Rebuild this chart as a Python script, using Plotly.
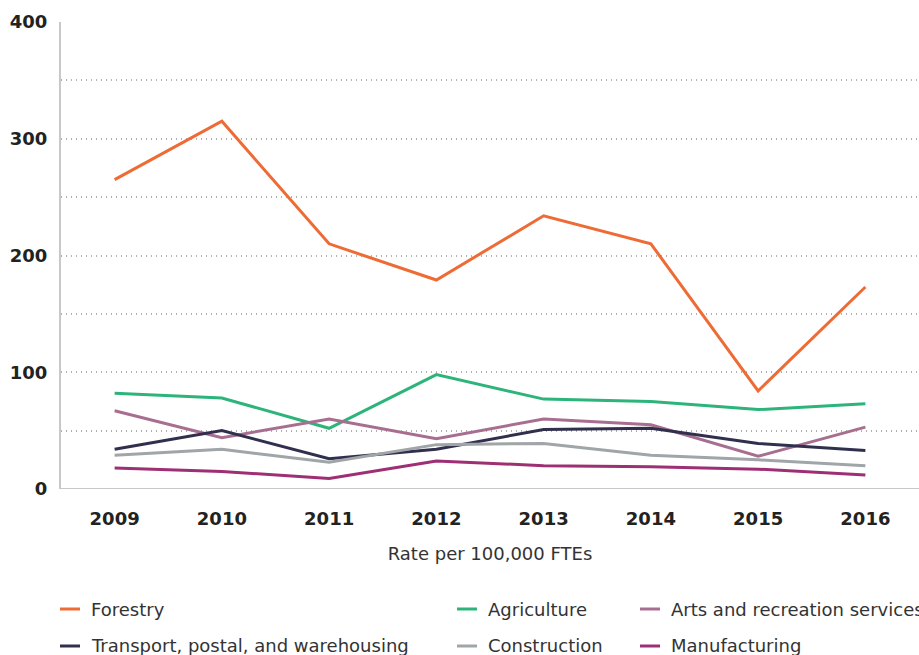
import plotly.graph_objects as go

# Fatality rates per 100,000 full-time equivalent workers, by industry
years = ["2009", "2010", "2011", "2012", "2013", "2014", "2015", "2016"]

forestry = [265, 315, 210, 179, 234, 210, 84, 173]
agriculture = [82, 78, 52, 98, 77, 75, 68, 73]
arts_recreation = [67, 44, 60, 43, 60, 55, 28, 53]
transport = [34, 50, 26, 34, 51, 52, 39, 33]
construction = [29, 34, 23, 38, 39, 29, 25, 20]
manufacturing = [18, 15, 9, 24, 20, 19, 17, 12]

series_names = [
    "Forestry", "Agriculture", "Arts and recreation services",
    "Transport, postal, and warehousing", "Construction", "Manufacturing",
]
series_values = [forestry, agriculture, arts_recreation, transport, construction, manufacturing]
series_colors = ["#EE6B35", "#2DB47A", "#A86E90", "#30304E", "#A0A5A8", "#9E2F74"]

y_ticks = [0, 100, 200, 300, 400]
x_title = "Rate per 100,000 FTEs"

FONT = "DejaVu Sans"
W, H = 919, 655
ML, MR, MT, MB = 61, 0, 22, 166

fig = go.Figure()
for name, vals, col in zip(series_names, series_values, series_colors):
    fig.add_trace(go.Scatter(
        x=years, y=vals, name=name, mode="lines",
        line=dict(color=col, width=3), showlegend=False,
    ))

# Hand-placed legend: three columns, two rows
legend_cols_px = [60, 457, 640]
legend_rows_px = [609, 646]
plot_w = W - ML - MR
plot_h = H - MT - MB
shapes = []
annotations = []
for i, (name, col) in enumerate(zip(series_names, series_colors)):
    r, c = divmod(i, 3)
    x0 = (legend_cols_px[c] - ML) / plot_w
    x1 = (legend_cols_px[c] + 20 - ML) / plot_w
    xt = (legend_cols_px[c] + 29 - ML) / plot_w
    yy = (H - MB - legend_rows_px[r]) / plot_h
    shapes.append(dict(type="line", xref="paper", yref="paper",
                       x0=x0, x1=x1, y0=yy, y1=yy,
                       line=dict(color=col, width=3)))
    annotations.append(dict(xref="paper", yref="paper", x=xt, y=yy,
                            text=name, showarrow=False,
                            xanchor="left", yanchor="middle",
                            font=dict(family=FONT, size=18, color="#333333")))

fig.update_layout(
    width=W, height=H,
    margin=dict(l=ML, r=MR, t=MT, b=MB),
    paper_bgcolor="white", plot_bgcolor="white",
    font=dict(family=FONT, color="#222222"),
    shapes=shapes, annotations=annotations,
    xaxis=dict(
        type="category", range=[-0.5, 7.5],
        showgrid=False, showline=False, zeroline=False, ticks="",
        tickfont=dict(family=FONT, size=18, color="#222222", weight=600),
        ticklabelstandoff=17,
        title=dict(text=x_title, font=dict(family=FONT, size=18, color="#333333"),
                   standoff=19),
    ),
    yaxis=dict(
        range=[0, 400], tickvals=y_ticks, ticktext=[str(v) for v in y_ticks],
        showgrid=True, gridcolor="#B0B0B0", griddash="1px,4px", gridwidth=1.5,
        minor=dict(dtick=50, showgrid=True, gridcolor="#B0B0B0",
                   griddash="1px,4px", gridwidth=1.5),
        showline=True, linecolor="#C8C8C8", linewidth=2,
        zeroline=False, ticks="",
        tickfont=dict(family=FONT, size=18, color="#222222", weight=600),
        ticklabelstandoff=8,
    ),
)
# solid baseline along y = 0
fig.add_hline(y=0, line=dict(color="#C8C8C8", width=2), layer="above")

fig.write_html("out.html")
